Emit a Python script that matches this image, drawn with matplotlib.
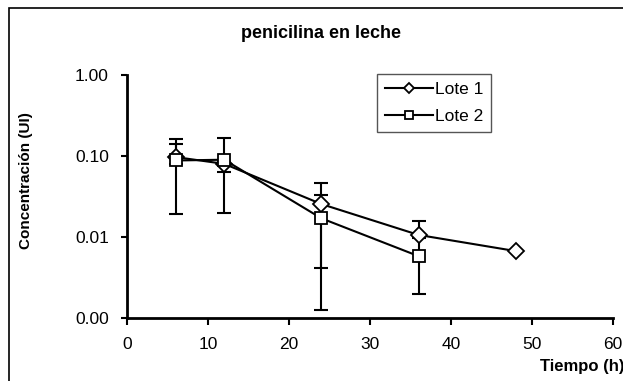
import numpy as np
import matplotlib
matplotlib.use('Agg')
import matplotlib.pyplot as plt
from matplotlib.patches import Rectangle

plt.rcParams['font.family'] = ['Liberation Sans', 'DejaVu Sans']

# datos
t1 = [6, 12, 24, 36, 48]
lote1 = [0.097, 0.080, 0.0255, 0.0106, 0.0067]
lote1_hi = [0.140, 0.080, 0.046, 0.0157, 0.0067]
lote1_lo = [0.079, 0.063, 0.0042, 0.0106, 0.0067]

t2 = [6, 12, 24, 36]
lote2 = [0.088, 0.090, 0.017, 0.0058]
lote2_hi = [0.160, 0.165, 0.033, 0.0096]
lote2_lo = [0.0195, 0.020, 0.00125, 0.0020]

xticks = [0, 10, 20, 30, 40, 50, 60]
yticks = [0.001, 0.01, 0.1, 1.0]

W, H = 623, 381
fig = plt.figure(figsize=(W/100, H/100), dpi=100)
ax = fig.add_axes([127/W, 1-318/H, (613-127)/W, (318-75)/H])

e1 = [np.array(lote1) - np.array(lote1_lo), np.array(lote1_hi) - np.array(lote1)]
e2 = [np.array(lote2) - np.array(lote2_lo), np.array(lote2_hi) - np.array(lote2)]
ax.errorbar(t1, lote1, yerr=e1, fmt='none', ecolor='black', elinewidth=1.5, capsize=5, capthick=1.5)
ax.errorbar(t2, lote2, yerr=e2, fmt='none', ecolor='black', elinewidth=1.5, capsize=5, capthick=1.5)
ax.plot(t1, lote1, '-D', color='black', lw=1.5, ms=8, mfc='white', mec='black', mew=1.3, label='Lote 1')
ax.plot(t2, lote2, '-s', color='black', lw=1.5, ms=9, mfc='white', mec='black', mew=1.3, label='Lote 2')

ax.set_yscale('log')
ax.set_ylim(0.001, 1.0)
ax.set_xlim(0, 60)
ax.set_xticks(xticks)
ax.set_yticks(yticks)
ax.set_yticklabels([f'{v:.2f}' for v in yticks])
ax.minorticks_off()
ax.tick_params(axis='x', direction='out', length=5, width=1.5, labelsize=12.5, pad=9)
ax.tick_params(axis='y', direction='out', length=4, width=1.5, labelsize=12.5, pad=9)
for s in ['top', 'right']:
    ax.spines[s].set_visible(False)
for s in ['left', 'bottom']:
    ax.spines[s].set_linewidth(2)
ax.set_ylabel('Concentración (UI)', fontsize=11, fontweight='bold')
ax.yaxis.set_label_coords(-0.193, 0.565)

leg = fig.legend(loc='upper left', bbox_to_anchor=(377/W, 1-74/H), borderaxespad=0,
                 fontsize=12.5, frameon=True, fancybox=False, handlelength=2.75,
                 handletextpad=0.15, borderpad=0.45, labelspacing=0.7, markerscale=0.7)
leg.get_frame().set_edgecolor('#555555')
leg.get_frame().set_linewidth(1)
leg.get_frame().set_alpha(1)

fig.text(321/W, 1-33/H, 'penicilina en leche', ha='center', va='center', fontsize=13, fontweight='bold')
fig.text(540/W, 1-367/H, 'Tiempo (h)', ha='left', va='center', fontsize=12, fontweight='bold')

fig.patches.append(Rectangle((9/W, -0.1), 1.2, 1 - 8/H + 0.1, transform=fig.transFigure,
                             fill=False, edgecolor='black', lw=1.2))

fig.savefig('out.png', dpi=100)
